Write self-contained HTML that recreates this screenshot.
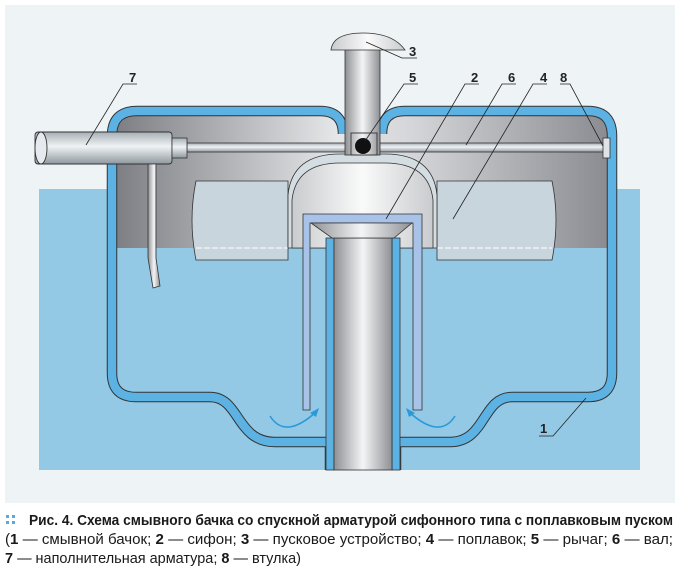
<!DOCTYPE html>
<html><head><meta charset="utf-8"><style>
html,body{margin:0;padding:0;background:#fff;}
svg{display:block}
</style></head><body>
<svg width="679" height="579" viewBox="0 0 679 579" xmlns="http://www.w3.org/2000/svg">
<defs>
<linearGradient id="gray" x1="0" x2="1" y1="0" y2="0">
<stop offset="0" stop-color="#7d7f84"/><stop offset="0.45" stop-color="#e6e7e9"/><stop offset="0.6" stop-color="#d5d6d9"/><stop offset="1" stop-color="#8a8c91"/>
</linearGradient>
<linearGradient id="cyl" x1="0" x2="1" y1="0" y2="0">
<stop offset="0" stop-color="#8e9094"/><stop offset="0.5" stop-color="#f4f5f6"/><stop offset="1" stop-color="#8e9094"/>
</linearGradient>
<linearGradient id="cylv" x1="0" x2="0" y1="0" y2="1">
<stop offset="0" stop-color="#a6afb6"/><stop offset="0.45" stop-color="#f0f3f5"/><stop offset="1" stop-color="#8f989f"/>
</linearGradient>
<linearGradient id="dome" x1="0" x2="1" y1="0" y2="0">
<stop offset="0" stop-color="#c9cbce"/><stop offset="0.5" stop-color="#fafafa"/><stop offset="1" stop-color="#c9cbce"/>
</linearGradient>
</defs>
<rect x="0" y="0" width="679" height="579" fill="#fff"/>
<rect x="5" y="5" width="670" height="498" fill="#eef3f6"/>
<rect x="39" y="189" width="601" height="281" fill="#94c9e6"/>
<path d="M117,248 L117,136 Q117,116 137,116 L320,116 Q338,116 338,134 L387,134 Q387,116 405,116 L588,116 Q608,116 608,136 L608,248 Z" fill="url(#gray)"/>
<path d="M196,181 L288,181 L288,260 L196,260 Q188,220 196,181 Z" fill="#c8d5dc" stroke="#333" stroke-width="0.8"/>
<path d="M437,181 L552,181 Q560,220 552,260 L437,260 Z" fill="#c8d5dc" stroke="#333" stroke-width="0.8"/>
<line x1="196" y1="248" x2="288" y2="248" stroke="#fff" stroke-width="1" stroke-dasharray="6,2"/>
<line x1="437" y1="248" x2="552" y2="248" stroke="#fff" stroke-width="1" stroke-dasharray="6,2"/>
<path d="M288,248 L288,195 Q292,154 340,154 L385,154 Q433,154 437,195 L437,248 Z" fill="#d4dde2" stroke="#333" stroke-width="0.8"/>
<path d="M292,248 L292,200 Q296,163 340,163 L385,163 Q429,163 433,200 L433,248 Z" fill="url(#dome)" stroke="#333" stroke-width="0.8"/>
<!-- tank wall -->
<path id="wl" d="M343,134 Q343,111 320,111 L137,111 Q112,111 112,136 L112,373 Q112,397 136,397 L210,397 C240,397 236,442 275,442 L330,442 L330,470" fill="none" stroke="#333" stroke-width="10.5" stroke-linejoin="round"/>
<path d="M343,134 Q343,111 320,111 L137,111 Q112,111 112,136 L112,373 Q112,397 136,397 L210,397 C240,397 236,442 275,442 L330,442 L330,470" fill="none" stroke="#5cb2e3" stroke-width="8.5" stroke-linejoin="round"/>
<path d="M382,134 Q382,111 405,111 L588,111 Q612,111 612,136 L612,373 Q612,397 588,397 L512,397 C482,397 486,442 450,442 L396,442 L396,470" fill="none" stroke="#333" stroke-width="10.5" stroke-linejoin="round"/>
<path d="M382,134 Q382,111 405,111 L588,111 Q612,111 612,136 L612,373 Q612,397 588,397 L512,397 C482,397 486,442 450,442 L396,442 L396,470" fill="none" stroke="#5cb2e3" stroke-width="8.5" stroke-linejoin="round"/>
<rect x="326" y="238" width="8" height="232" fill="#5cb2e3" stroke="#333" stroke-width="0.8"/>
<rect x="392" y="238" width="8" height="232" fill="#5cb2e3" stroke="#333" stroke-width="0.8"/>
<path d="M303,410 L303,214 L422,214 L422,410 L413,410 L413,223 L310,223 L310,410 Z" fill="#a9c3e8" stroke="#333" stroke-width="0.8"/>
<rect x="334" y="238" width="58" height="232" fill="url(#cyl)" stroke="#333" stroke-width="0.8"/>
<path d="M311,223 L412,223 L394,238 L332,238 Z" fill="url(#cyl)" stroke="#333" stroke-width="0.8"/>
<rect x="187" y="143" width="418" height="9" fill="url(#cylv)" stroke="#333" stroke-width="0.8"/>
<rect x="603" y="138" width="7" height="20" fill="#dfe3e6" stroke="#333" stroke-width="0.8"/>
<rect x="35" y="132" width="137" height="32" rx="3" fill="url(#cylv)" stroke="#333" stroke-width="0.9"/>
<ellipse cx="41" cy="148" rx="6" ry="16" fill="#e4eaee" stroke="#333" stroke-width="0.9"/>
<rect x="172" y="138" width="15" height="20" fill="url(#cylv)" stroke="#333" stroke-width="0.8"/>
<path d="M148,164 L148,258 L153,288 L160,286 L156,258 L156,164 Z" fill="url(#cyl)" stroke="#333" stroke-width="0.8"/>
<rect x="345" y="45" width="35" height="110" fill="url(#cyl)" stroke="#333" stroke-width="0.8"/>
<path d="M331,50 Q333,33 363,33 Q393,33 405,50 Z" fill="url(#dome)" stroke="#333" stroke-width="0.8"/>
<rect x="351" y="133" width="26" height="22" fill="none" stroke="#333" stroke-width="0.9"/>
<circle cx="363" cy="146" r="8" fill="#111"/>
<path d="M270,416 Q285,440 316,412" fill="none" stroke="#2a9ad8" stroke-width="1.6"/>
<path d="M319,408 L310,413 L316,417 Z" fill="#2a9ad8"/>
<path d="M455,416 Q440,440 409,412" fill="none" stroke="#2a9ad8" stroke-width="1.6"/>
<path d="M406,408 L415,413 L409,417 Z" fill="#2a9ad8"/>
<g stroke="#222" stroke-width="0.8" fill="none">
<polyline points="366,42 402,58 417,58"/>
<polyline points="86,145 123,84 137,84"/>
<polyline points="365,141 404,84 418,84"/>
<polyline points="386,219 465,84 479,84"/>
<polyline points="466,145 502,84 516,84"/>
<polyline points="453,219 533,84 547,84"/>
<polyline points="603,146 570,84 560,84"/>
<polyline points="586,398 553,436 539,436"/>
</g>
<g font-family="'Liberation Sans Narrow','Liberation Sans',sans-serif" font-weight="bold" font-size="13" fill="#222">
<text x="409" y="56">3</text>
<text x="129" y="82">7</text>
<text x="409" y="82">5</text>
<text x="471" y="82">2</text>
<text x="508" y="82">6</text>
<text x="540" y="82">4</text>
<text x="560" y="82">8</text>
<text x="540" y="433">1</text>
</g>
<g fill="#5ba9d6">
<rect x="6" y="515" width="3" height="3"/><rect x="12" y="515" width="3" height="3"/>
<rect x="6" y="521" width="3" height="3"/><rect x="12" y="521" width="3" height="3"/>
</g>
<g font-family="'Liberation Sans Narrow','Liberation Sans',sans-serif" font-size="15" fill="#1a1a1a">
<text x="29" y="525" textLength="644" lengthAdjust="spacingAndGlyphs" font-weight="bold">Рис. 4. Схема смывного бачка со спускной арматурой сифонного типа с поплавковым пуском</text>
<text x="5" y="544" textLength="668" lengthAdjust="spacingAndGlyphs">(<tspan font-weight="bold">1</tspan> — смывной бачок; <tspan font-weight="bold">2</tspan> — сифон; <tspan font-weight="bold">3</tspan> — пусковое устройство; <tspan font-weight="bold">4</tspan> — поплавок; <tspan font-weight="bold">5</tspan> — рычаг; <tspan font-weight="bold">6</tspan> — вал;</text>
<text x="5" y="563" textLength="296" lengthAdjust="spacingAndGlyphs"><tspan font-weight="bold">7</tspan> — наполнительная арматура; <tspan font-weight="bold">8</tspan> — втулка)</text>
</g>
</svg>
</body></html>
